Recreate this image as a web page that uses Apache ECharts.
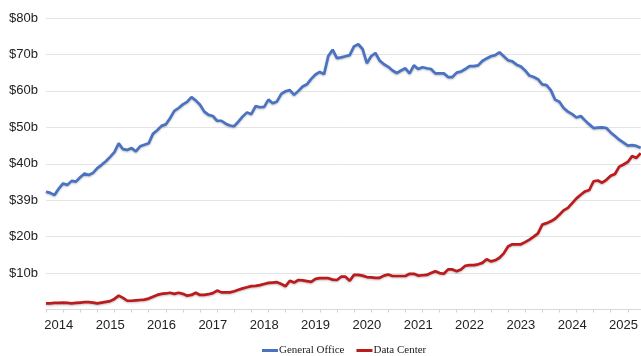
<!DOCTYPE html>
<html>
<head>
<meta charset="utf-8">
<script src="https://cdn.jsdelivr.net/npm/echarts@6/dist/echarts.min.js"></script>
<style>html,body{margin:0;padding:0;background:#fff}#c{width:641px;height:356px}</style>
</head>
<body>
<div id="c"></div>
<script>
// Monthly categories, Oct 2013 .. May 2025
const startYear = 2013, startMonth = 10, monthCount = 140;
const months = [];
for (let k = 0; k < monthCount; k++) {
  const m = startMonth - 1 + k;
  const y = startYear + Math.floor(m / 12);
  const mm = (m % 12) + 1;
  months.push(y + '-' + (mm < 10 ? '0' + mm : mm));
}

const yTickLabels = ['', '$10b', '$20b', '$39b', '$40b', '$50b', '$60b', '$70b', '$80b'];

const generalOffice = [
  32.3, 32.0, 31.4, 33.2, 34.6, 34.2, 35.3, 35.1, 36.3, 37.3,
  36.9, 37.5, 38.8, 39.7, 40.7, 41.9, 43.2, 45.6, 44.0, 43.8,
  44.3, 43.4, 44.8, 45.2, 45.6, 48.2, 49.2, 50.4, 50.8, 52.5,
  54.5, 55.3, 56.3, 57.0, 58.3, 57.4, 56.2, 54.3, 53.4, 53.1,
  51.8, 51.8, 51.0, 50.5, 50.3, 51.6, 53.0, 54.1, 53.6, 55.8,
  55.5, 55.6, 57.6, 56.6, 57.1, 59.2, 59.9, 60.2, 58.9, 60.0,
  61.2, 61.8, 63.3, 64.5, 65.2, 64.6, 69.6, 71.3, 69.0, 69.2,
  69.5, 69.8, 72.2, 72.8, 71.5, 67.6, 69.5, 70.4, 68.3, 67.3,
  66.6, 65.6, 64.9, 65.6, 66.2, 64.8, 67.0, 66.0, 66.5, 66.2,
  66.0, 64.8, 64.8, 64.8, 63.8, 63.8, 65.0, 65.3, 66.0, 66.8,
  66.8, 67.0, 68.2, 68.9, 69.5, 69.8, 70.6, 69.5, 68.4, 68.1,
  67.2, 66.7, 65.6, 64.2, 63.8, 63.2, 61.8, 61.6, 60.2, 57.6,
  57.0, 55.3, 54.3, 53.6, 52.7, 53.1, 51.9, 50.8, 49.8, 49.9,
  50.0, 49.8, 48.6, 47.6, 46.6, 45.8, 45.0, 45.1, 44.9, 44.4
];

const dataCenter = [
  1.7, 1.7, 1.8, 1.8, 1.9, 1.8, 1.7, 1.8, 1.9, 2.0,
  2.0, 1.9, 1.7, 1.9, 2.1, 2.3, 2.9, 3.8, 3.2, 2.4,
  2.4, 2.5, 2.6, 2.7, 3.0, 3.5, 4.0, 4.3, 4.4, 4.6,
  4.3, 4.6, 4.3, 3.8, 4.0, 4.6, 4.0, 4.0, 4.2, 4.5,
  5.2, 4.7, 4.7, 4.7, 5.0, 5.4, 5.8, 6.1, 6.4, 6.5,
  6.7, 7.0, 7.3, 7.4, 7.5, 7.0, 6.4, 7.9, 7.4, 8.1,
  8.0, 7.8, 7.6, 8.4, 8.6, 8.6, 8.6, 8.2, 8.1, 9.0,
  9.0, 7.9, 9.5, 9.5, 9.3, 8.9, 8.8, 8.7, 8.7, 9.3,
  9.6, 9.2, 9.2, 9.2, 9.2, 9.8, 9.8, 9.3, 9.4, 9.5,
  10.0, 10.5, 10.0, 9.8, 11.0, 11.0, 10.5, 11.0, 12.0, 12.2,
  12.2, 12.4, 12.8, 13.8, 13.2, 13.5, 14.2, 15.4, 17.3, 17.9,
  17.9, 17.9, 18.5, 19.2, 20.0, 20.9, 23.3, 23.7, 24.2, 24.9,
  26.0, 27.2, 27.9, 29.2, 30.5, 31.5, 32.4, 32.8, 35.2, 35.4,
  34.8, 35.6, 36.7, 37.2, 39.2, 39.8, 40.5, 42.1, 41.6, 42.9
];

const chart = echarts.init(document.getElementById('c'), null, {renderer: 'canvas'});
const shadow = {shadowColor: 'rgba(0,0,0,0.25)', shadowBlur: 2, shadowOffsetY: 1};
chart.setOption({
  animation: false,
  backgroundColor: '#fff',
  grid: {left: 46, right: 0, top: 18, bottom: 46.5, containLabel: false},
  xAxis: {
    type: 'category',
    data: months,
    boundaryGap: false,
    axisLine: {lineStyle: {color: '#d9d9d9', width: 1}},
    axisTick: {show: true, interval: 3, length: 3, lineStyle: {color: '#d0d0d0'}},
    axisLabel: {
      interval: (i, v) => v.endsWith('-01'),
      formatter: v => v.slice(0, 4),
      color: '#222', fontSize: 13, fontFamily: 'Liberation Sans, Arial, sans-serif',
      margin: 9
    },
    splitLine: {show: false}
  },
  yAxis: {
    type: 'value', min: 0, max: 80, interval: 10,
    axisLine: {show: false}, axisTick: {show: false},
    axisLabel: {
      formatter: v => yTickLabels[Math.round(v / 10)],
      color: '#222', fontSize: 13, fontFamily: 'Liberation Sans, Arial, sans-serif',
      margin: 8
    },
    splitLine: {lineStyle: {color: '#e4e4e4', width: 1}}
  },
  legend: {
    top: 340, left: 257,
    icon: 'rect', itemWidth: 16, itemHeight: 3, itemGap: 12,
    textStyle: {fontFamily: 'Liberation Serif, Times New Roman, serif', fontSize: 11, color: '#222', padding: [0, 0, 0, -4]},
    data: ['General Office', 'Data Center']
  },
  series: [
    {name: 'General Office', type: 'line', data: generalOffice, showSymbol: false, symbol: 'none',
     color: '#4a72c2', lineStyle: Object.assign({width: 2.7, color: '#4a72c2'}, shadow)},
    {name: 'Data Center', type: 'line', data: dataCenter, showSymbol: false, symbol: 'none',
     color: '#bc1a1c', lineStyle: Object.assign({width: 2.7, color: '#bc1a1c'}, shadow)}
  ]
});
</script>
</body>
</html>
